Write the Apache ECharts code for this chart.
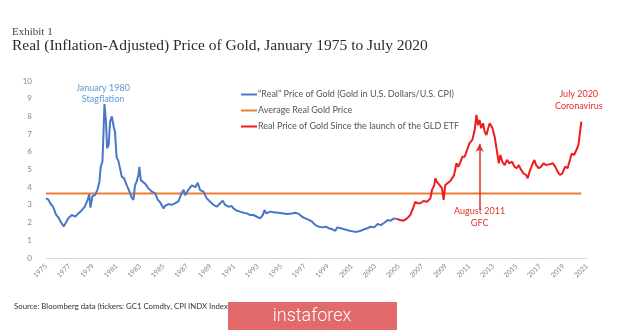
<!DOCTYPE html>
<html>
<head>
<meta charset="utf-8">
<script src="https://cdn.jsdelivr.net/npm/echarts@6/dist/echarts.min.js"></script>
<style>
  html, body { margin: 0; padding: 0; background: #ffffff; }
  #chart { width: 620px; height: 330px; }
</style>
</head>
<body>
<div id="chart"></div>
<script>
// Real (inflation-adjusted) gold price, decimal year -> ratio of gold price to CPI
const realYears = [
  1975.0, 1975.2, 1975.4, 1975.6, 1975.85, 1976.05, 1976.25, 1976.5, 1976.65, 1976.9,
  1977.2, 1977.5, 1977.75, 1978.05, 1978.3, 1978.55, 1978.68, 1978.78, 1978.95, 1979.17,
  1979.37, 1979.54, 1979.65, 1979.8, 1979.88, 1979.97, 1980.1, 1980.2, 1980.33, 1980.45,
  1980.6, 1980.73, 1980.87, 1981.0, 1981.15, 1981.3, 1981.44, 1981.64, 1981.87, 1982.1,
  1982.3, 1982.43, 1982.57, 1982.7, 1982.86, 1982.94, 1983.06, 1983.23, 1983.43, 1983.7,
  1984.0, 1984.28, 1984.5, 1984.7, 1985.0, 1985.13, 1985.4, 1985.7, 1986.0, 1986.26,
  1986.55, 1986.7, 1986.83, 1987.1, 1987.4, 1987.7, 1987.9, 1988.1, 1988.39, 1988.67,
  1988.96, 1989.24, 1989.52, 1989.81, 1990.03, 1990.23, 1990.52, 1990.8, 1990.94, 1991.23,
  1991.5, 1991.8, 1992.08, 1992.36, 1992.64, 1992.93, 1993.2, 1993.44, 1993.58, 1993.72,
  1994.06, 1994.35, 1994.77, 1995.2, 1995.5, 1995.9, 1996.2, 1996.5, 1996.77, 1997.05,
  1997.35, 1997.63, 1997.9, 1998.2, 1998.5, 1998.8, 1999.06, 1999.35, 1999.6, 1999.77,
  2000.06, 2000.35, 2000.6, 2000.9, 2001.2, 2001.5, 2001.75, 2002.05, 2002.33, 2002.6,
  2002.9, 2003.2, 2003.47, 2003.76, 2004.05, 2004.3, 2004.6, 2004.85
];
const realValues = [
  3.37, 3.3, 3.05, 2.9, 2.45, 2.3, 2.05, 1.78, 1.95, 2.25,
  2.43, 2.34, 2.52, 2.7, 2.9, 3.3, 3.6, 2.85, 3.5, 3.55,
  3.85, 4.3, 5.15, 5.45, 6.9, 8.7, 7.7, 6.2, 6.4, 7.7,
  8.0, 7.5, 7.1, 5.7, 5.5, 5.05, 4.6, 4.5, 4.1, 3.75,
  3.4, 3.28, 4.1, 4.3, 4.7, 5.15, 4.4, 4.3, 4.2, 3.95,
  3.75, 3.65, 3.3, 3.15, 2.8, 2.95, 3.05, 3.0, 3.1, 3.2,
  3.7, 3.85, 3.55, 3.85, 4.1, 4.0, 4.25, 3.84, 3.75, 3.37,
  3.18, 3.0, 2.9, 3.09, 3.24, 3.0, 2.9, 2.94, 2.8, 2.67,
  2.62, 2.56, 2.52, 2.43, 2.43, 2.33, 2.24, 2.43, 2.71, 2.52,
  2.62, 2.58, 2.56, 2.52, 2.49, 2.52, 2.56, 2.49, 2.33, 2.24,
  2.15, 2.05, 1.86, 1.77, 1.73, 1.77, 1.68, 1.62, 1.54, 1.73,
  1.68, 1.62, 1.58, 1.52, 1.49, 1.49, 1.54, 1.62, 1.68, 1.77,
  1.73, 1.92, 1.86, 1.99, 2.15, 2.11, 2.24, 2.2
];

// Same measure after the launch of the GLD ETF
const etfYears = [
  2004.85, 2005.1, 2005.4, 2005.7, 2005.98, 2006.26, 2006.4, 2006.6, 2006.83, 2007.1,
  2007.4, 2007.68, 2007.82, 2008.02, 2008.1, 2008.24, 2008.47, 2008.67, 2008.81, 2008.95,
  2009.1, 2009.38, 2009.5, 2009.7, 2009.9, 2010.05, 2010.2, 2010.4, 2010.6, 2010.8,
  2011.0, 2011.25, 2011.45, 2011.6, 2011.73, 2011.87, 2012.0, 2012.16, 2012.3, 2012.45,
  2012.6, 2012.73, 2012.96, 2013.15, 2013.35, 2013.5, 2013.63, 2013.8, 2014.0, 2014.2,
  2014.4, 2014.63, 2014.83, 2015.03, 2015.2, 2015.4, 2015.6, 2015.82, 2015.96, 2016.16,
  2016.39, 2016.53, 2016.67, 2016.9, 2017.1, 2017.3, 2017.5, 2017.8, 2018.1, 2018.3,
  2018.5, 2018.7, 2018.9, 2019.15, 2019.35, 2019.55, 2019.7, 2019.9, 2020.1, 2020.27,
  2020.38, 2020.52
];
const etfValues = [
  2.2, 2.15, 2.11, 2.24, 2.43, 2.9, 3.18, 3.09, 3.09, 3.22,
  3.18, 3.37, 3.84, 4.12, 4.5, 4.3, 4.12, 3.94, 3.28, 4.12,
  4.2, 4.35, 4.27, 4.68, 5.35, 5.16, 5.35, 5.72, 5.72, 6.1,
  6.48, 6.67, 7.23, 8.08, 7.51, 7.8, 7.33, 7.61, 7.14, 6.95,
  7.33, 7.61, 7.33, 6.85, 6.0, 5.35, 5.82, 5.44, 5.25, 5.54,
  5.35, 5.44, 5.16, 5.07, 5.25, 4.97, 4.78, 4.69, 4.5, 4.97,
  5.35, 5.54, 5.25, 5.07, 5.16, 5.35, 5.25, 5.29, 5.35, 5.16,
  4.88, 4.69, 4.78, 5.16, 5.07, 5.54, 5.9, 5.82, 6.1, 6.39,
  6.95, 7.7
];

// Long-run average of the real price
const averageSpan = [1975.0, 2020.52];
const averageValue = 3.65;

// Axis ticks
const yearTicks = [1975, 2021, 2];   // min, max, step
const valueTicks = [0, 10, 1];

const seriesNames = [
  '\u201CReal\u201D Price of Gold (Gold in U.S. Dollars/U.S. CPI)',
  'Average Real Gold Price',
  'Real Price of Gold Since the launch of the GLD ETF'
];

const zip = (xs, ys) => xs.map((x, i) => [x, ys[i]]);

const chart = echarts.init(document.getElementById('chart'), null, { renderer: 'canvas' });

const noteFont = 'Lato, "Open Sans", sans-serif';
const serifFont = '"Liberation Serif", "DejaVu Serif", serif';

chart.setOption({
  animation: false,
  backgroundColor: '#ffffff',
  grid: { left: 46, right: 33, top: 81, bottom: 72, containLabel: false },
  legend: {
    orient: 'vertical',
    left: 236,
    top: 85,
    itemWidth: 16,
    itemHeight: 2,
    itemGap: 7,
    icon: 'rect',
    textStyle: { fontSize: 9, color: '#555', fontFamily: noteFont, padding: [0, 0, 0, -4] },
    data: [seriesNames[0], seriesNames[1], seriesNames[2]]
  },
  xAxis: {
    type: 'value',
    min: yearTicks[0],
    max: yearTicks[1],
    interval: yearTicks[2],
    splitLine: { show: false },
    axisTick: { show: false },
    axisLine: { show: true, lineStyle: { color: '#d9d9d9', width: 1 } },
    axisLabel: {
      rotate: 45,
      fontSize: 7,
      color: '#888',
      margin: 7,
      fontFamily: noteFont,
      formatter: v => String(v)
    }
  },
  yAxis: {
    type: 'value',
    min: valueTicks[0],
    max: valueTicks[1],
    interval: valueTicks[2],
    splitLine: { show: false },
    axisLine: { show: false },
    axisTick: { show: false },
    axisLabel: { fontSize: 8, color: '#888', margin: 14, fontFamily: noteFont }
  },
  series: [
    {
      name: seriesNames[0],
      type: 'line',
      data: zip(realYears, realValues),
      showSymbol: false,
      lineStyle: { color: '#4a76c8', width: 2 },
      itemStyle: { color: '#4a76c8' },
      z: 3,
      markPoint: {
        symbol: 'circle',
        symbolSize: 0,
        label: {
          show: true,
          formatter: 'January 1980\nStagflation',
          color: '#5b9bd5',
          fontSize: 9,
          lineHeight: 11,
          fontFamily: noteFont,
          align: 'center',
          verticalAlign: 'middle'
        },
        data: [{ coord: [1979.85, 9.3] }]
      }
    },
    {
      name: seriesNames[1],
      type: 'line',
      data: zip(averageSpan, [averageValue, averageValue]),
      showSymbol: false,
      lineStyle: { color: '#ed7d31', width: 2 },
      itemStyle: { color: '#ed7d31' },
      z: 2
    },
    {
      name: seriesNames[2],
      type: 'line',
      data: zip(etfYears, etfValues),
      showSymbol: false,
      lineStyle: { color: '#ee1c1c', width: 2 },
      itemStyle: { color: '#ee1c1c' },
      z: 4,
      markLine: {
        silent: true,
        symbol: ['none', 'arrow'],
        symbolSize: [6, 8],
        label: { show: false },
        lineStyle: { color: '#e0302e', width: 1.5, type: 'solid' },
        data: [[{ coord: [2011.87, 2.75] }, { coord: [2011.87, 6.45] }]]
      },
      markPoint: {
        symbol: 'circle',
        symbolSize: 0,
        label: {
          show: true,
          color: '#e0302e',
          fontSize: 9,
          lineHeight: 12,
          fontFamily: noteFont,
          align: 'center',
          verticalAlign: 'middle'
        },
        data: [
          { coord: [2011.87, 2.3], label: { formatter: 'August 2011\nGFC' } },
          { coord: [2020.3, 8.9], label: { formatter: 'July 2020\nCoronavirus' } }
        ]
      }
    }
  ],
  graphic: [
    {
      type: 'text', left: 12, top: 27,
      style: { text: 'Exhibit 1', fontSize: 11, fill: '#444', fontFamily: serifFont }
    },
    {
      type: 'text', left: 12, top: 38,
      style: { text: 'Real (Inflation-Adjusted) Price of Gold, January 1975 to July 2020', fontSize: 15.5, fill: '#2a2a2a', fontFamily: serifFont }
    },
    {
      type: 'text', left: 14, top: 302,
      style: { text: 'Source: Bloomberg data (tickers: GC1 Comdty, CPI INDX Index', fontSize: 7.8, fill: '#333', fontFamily: noteFont }
    },
    {
      type: 'group', left: 228, top: 302,
      children: [
        { type: 'rect', shape: { x: 0, y: 0, width: 169, height: 28 }, style: { fill: '#e36a6b' } },
        { type: 'text', x: 84, y: 14, style: { text: 'instaforex', fontSize: 18, fill: '#ffffff', fontFamily: 'Roboto, sans-serif', fontWeight: 300, align: 'center', verticalAlign: 'middle' } }
      ]
    }
  ]
});
</script>
</body>
</html>
